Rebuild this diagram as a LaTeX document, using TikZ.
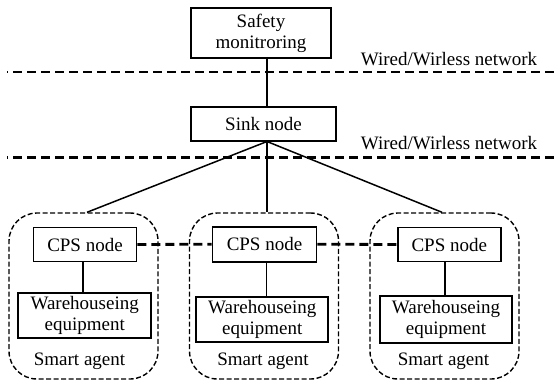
\documentclass[tikz,border=0pt]{standalone}
\usepackage{fontspec}
\setmainfont{Liberation Serif}
\usetikzlibrary{calc}
\begin{document}
\begin{tikzpicture}[x=1pt,y=-1pt,
  font=\fontsize{19}{21}\selectfont,
  box/.style={draw, line width=1.8pt, inner sep=0pt, align=center},
  link/.style={line width=1.5pt},
  net/.style={line width=2.8pt, dash pattern=on 9pt off 5pt},
  agent/.style={draw, line width=1.4pt, dash pattern=on 5pt off 2.5pt,
    rounded corners=28pt, minimum width=149pt, minimum height=166pt, inner sep=0pt},
  lbl/.style={anchor=base, inner sep=0pt}]
\useasboundingbox (0,0) rectangle (557,384);

% upper tier
\node[box, minimum width=140pt, minimum height=50pt] (safe) at (261,33.3) {Safety\\monitroring};
\node[box, minimum width=145pt, minimum height=34pt] (sink) at (263.5,124) {Sink node};
\coordinate (hub) at (267,141.5);

% network boundaries
\coordinate (n1a) at (7,72);   \coordinate (n1b) at (557,72);
\coordinate (n2a) at (7,157.5); \coordinate (n2b) at (557,157.5);
\draw[net, dash phase=8pt] (n1a) -- (n1b);
\draw[net, dash phase=8pt] (n2a) -- (n2b);
\node[lbl] (net1) at (449,65) {Wired/Wirless network};
\node[lbl] (net2) at (449,149) {Wired/Wirless network};

\draw[link] (safe.south -| hub) -- (sink.north -| hub);

% smart agents
\node[agent] (ag1) at (83.5,296) {};
\node[agent] (ag2) at (264,296) {};
\node[agent] (ag3) at (444.5,296) {};

\node[box, minimum width=103pt, minimum height=34pt] (c1) at (85,244.5) {CPS node};
\node[box, minimum width=104pt, minimum height=35pt] (c2) at (264.5,244.2) {CPS node};
\node[box, minimum width=103pt, minimum height=34pt] (c3) at (449.3,244.5) {CPS node};

\node[box, minimum width=133pt, minimum height=45pt] (w1) at (84.7,315.8) {Warehouseing\\equipment};
\node[box, minimum width=132pt, minimum height=45pt] (w2) at (262.3,319.2) {Warehouseing\\equipment};
\node[box, minimum width=132pt, minimum height=47pt] (w3) at (446,319.7) {Warehouseing\\equipment};

\node[lbl] (sa1) at (79.5,365) {Smart agent};
\node[lbl] (sa2) at (263,365) {Smart agent};
\node[lbl] (sa3) at (443.5,365) {Smart agent};

% connectors
\draw[link] (hub) -- ($(ag1.north)+(3.5,0)$);
\draw[link] (hub) -- (ag2.north -| hub);
\draw[link] (hub) -- ($(ag3.north)+(-2.5,0)$);

\draw[link] ($(c1.south)+(-2,0)$) -- ($(c1.south |- w1.north)+(-2,0)$);
\draw[link] ($(c2.south)+(2,0)$) -- ($(c2.south |- w2.north)+(2,0)$);
\draw[link] ($(c3.south)+(-4.5,0)$) -- ($(c3.south |- w3.north)+(-4.5,0)$);

\draw[net] (c1.east) -- (c2.west);
\draw[net] (c2.east) -- (c3.west);
\end{tikzpicture}
\end{document}
